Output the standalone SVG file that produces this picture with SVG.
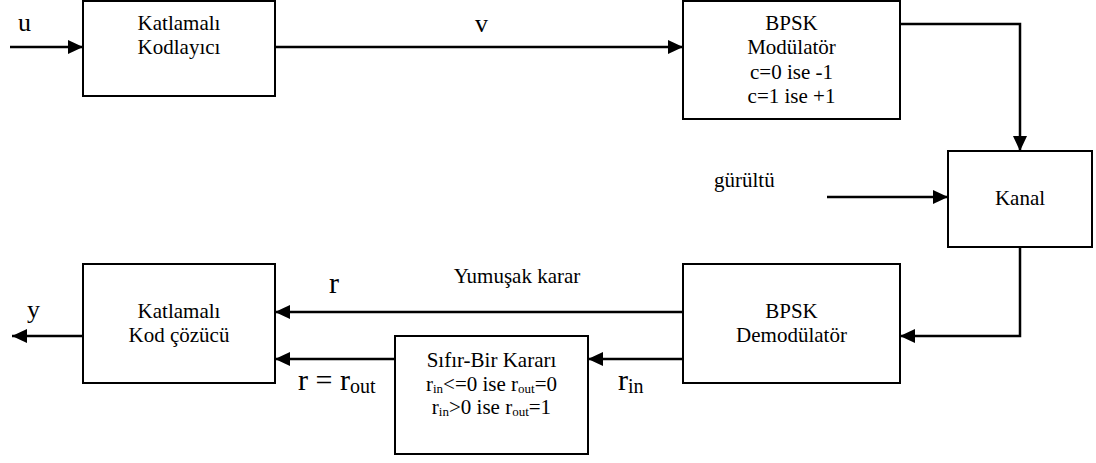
<svg xmlns="http://www.w3.org/2000/svg" width="1096" height="463" viewBox="0 0 1096 463">
  <style>
    .box { fill: #fff; stroke: #000; stroke-width: 2; }
    .wire { fill: none; stroke: #000; stroke-width: 2.5; marker-end: url(#arrow); }
    text { font-family: "Liberation Serif", "Times New Roman", serif; fill: #000; }
    .t { font-size: 21px; text-anchor: middle; }
    .sym { font-size: 26px; }
    .big { font-size: 30px; }
    .sub { font-size: 13px; }
    .bigsub { font-size: 20px; }
  </style>
  <defs>
    <marker id="arrow" markerUnits="userSpaceOnUse" markerWidth="16" markerHeight="14" refX="15" refY="7" orient="auto">
      <path d="M0,0 L15,7 L0,14 z" fill="#000"/>
    </marker>
  </defs>

  <rect width="1096" height="463" fill="#fff"/>

  <!-- connectors -->
  <g id="connectors">
    <path class="wire" d="M10,47 H83"/>
    <path class="wire" d="M275,47 H683"/>
    <path class="wire" d="M900,24 H1020 V151"/>
    <path class="wire" d="M827,197 H948"/>
    <path class="wire" d="M1020,247 V336 H900"/>
    <path class="wire" d="M683,312 H275"/>
    <path class="wire" d="M683,359 H588"/>
    <path class="wire" d="M395,359 H275"/>
    <path class="wire" d="M83,336 H12"/>
  </g>

  <!-- signal labels -->
  <g id="labels">
    <text class="sym" x="18" y="31">u</text>
    <text class="sym" x="475" y="32">v</text>
    <text class="t" x="714" y="187" style="text-anchor:start">gürültü</text>
    <text class="t" x="517" y="283">Yumuşak karar</text>
    <text class="big" x="329" y="293">r</text>
    <text class="sym" x="27" y="318">y</text>
    <text class="big" x="618" y="390">r<tspan class="bigsub" dy="3">in</tspan></text>
    <text class="big" x="298" y="390">r = r<tspan class="bigsub" dy="3">out</tspan></text>
  </g>

  <g id="encoder">
    <rect class="box" x="83" y="1" width="192" height="95"/>
    <text class="t" x="179" y="30">Katlamalı</text>
    <text class="t" x="179" y="54">Kodlayıcı</text>
  </g>

  <g id="modulator">
    <rect class="box" x="683" y="1" width="217" height="118"/>
    <text class="t" x="791.5" y="30">BPSK</text>
    <text class="t" x="791.5" y="54">Modülatör</text>
    <text class="t" x="791.5" y="79">c=0 ise -1</text>
    <text class="t" x="791.5" y="103">c=1 ise +1</text>
  </g>

  <g id="channel">
    <rect class="box" x="948" y="151" width="144" height="96"/>
    <text class="t" x="1020" y="205">Kanal</text>
  </g>

  <g id="demodulator">
    <rect class="box" x="683" y="264" width="217" height="119"/>
    <text class="t" x="791.5" y="318">BPSK</text>
    <text class="t" x="791.5" y="342">Demodülatör</text>
  </g>

  <g id="decoder">
    <rect class="box" x="83" y="264" width="192" height="119"/>
    <text class="t" x="179" y="318">Katlamalı</text>
    <text class="t" x="179" y="342">Kod  çözücü</text>
  </g>

  <g id="hard-decision">
    <rect class="box" x="395" y="336" width="193" height="118"/>
    <text class="t" x="491.5" y="367">Sıfır-Bir Kararı</text>
    <text class="t" x="491.5" y="391">r<tspan class="sub" dy="2">in</tspan><tspan dy="-2">&lt;=0 ise r</tspan><tspan class="sub" dy="2">out</tspan><tspan dy="-2">=0</tspan></text>
    <text class="t" x="491.5" y="414">r<tspan class="sub" dy="2">in</tspan><tspan dy="-2">&gt;0 ise r</tspan><tspan class="sub" dy="2">out</tspan><tspan dy="-2">=1</tspan></text>
  </g>
</svg>
